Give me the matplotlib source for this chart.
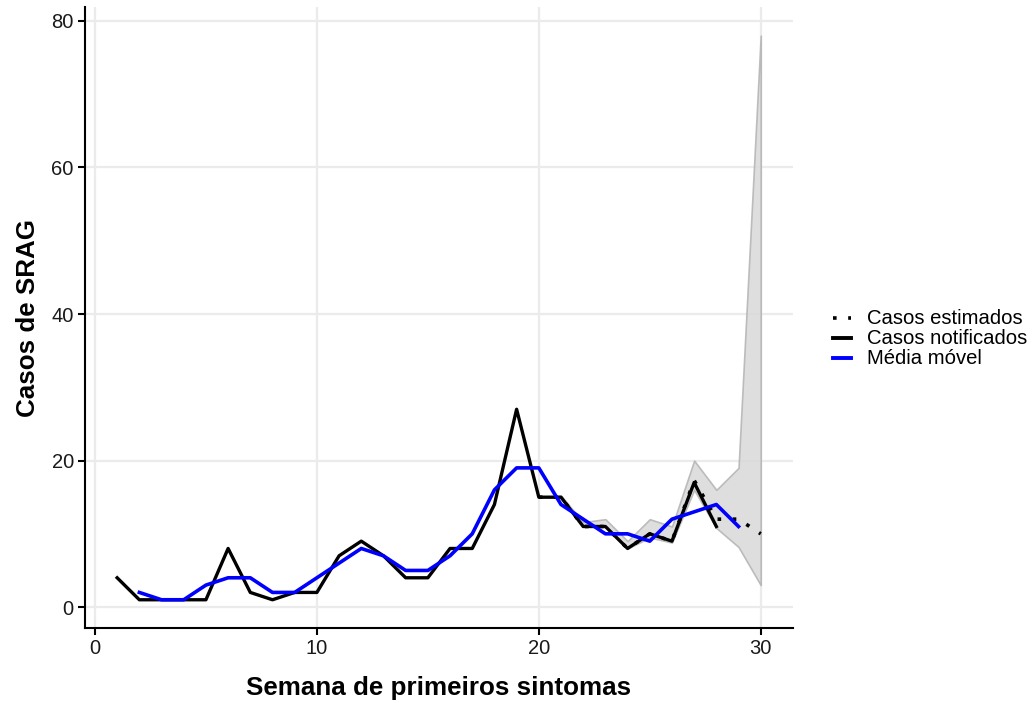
import matplotlib
matplotlib.use("Agg")
import matplotlib.pyplot as plt
from matplotlib.lines import Line2D

plt.rcParams['font.family'] = ['Liberation Sans', 'DejaVu Sans']

weeks_notified = list(range(1, 29))
notified = [4, 1, 1, 1, 1, 8, 2, 1, 2, 2, 7, 9, 7, 4, 4, 8, 8, 14, 27, 15,
            15, 11, 11, 8, 10, 9, 17, 11]

weeks_estimated = list(range(20, 31))
estimated = [15, 15, 11, 11, 8, 10, 9, 17.3, 12, 12, 10]
lower = [15, 15, 11, 11, 8, 9.5, 8.8, 16, 10.8, 8.2, 3]
upper = [15, 15.2, 11.6, 12, 9, 12, 11, 20, 16, 19, 78]

weeks_ma = list(range(2, 30))
moving_avg = [2, 1, 1, 3, 4, 4, 2, 2, 4, 6, 8, 7, 5, 5, 7, 10, 16, 19, 19,
              14, 12, 10, 10, 9, 12, 13, 14, 11]

xticks = [0, 10, 20, 30]
yticks = [0, 20, 40, 60, 80]
legend_labels = ['Casos estimados', 'Casos notificados', 'Média móvel']

W, H = 1035, 704
fig = plt.figure(figsize=(W / 100, H / 100), dpi=100)
ax = fig.add_axes([0.0821, 0.108, 0.684, 0.8815])

ax.fill_between(weeks_estimated, lower, upper, facecolor='#d9d9d9',
                edgecolor='#b3b3b3', linewidth=1.2, alpha=0.85, zorder=2)
ax.plot(weeks_notified, notified, color='black', lw=2.4, zorder=3)
ax.plot(weeks_estimated, estimated, color='black', lw=2.6,
        linestyle=(0, (1, 3.2)), dash_capstyle='butt', zorder=4)
ax.plot(weeks_ma, moving_avg, color='#0000ff', lw=2.6, zorder=5)

ax.set_xlim(-0.45, 31.45)
ax.set_ylim(-2.85, 81.85)
ax.set_xticks(xticks)
ax.set_yticks(yticks)
ax.grid(True, color='#ebebeb', lw=1.6, zorder=0)
ax.set_axisbelow(True)
for s in ['top', 'right']:
    ax.spines[s].set_visible(False)
for s in ['left', 'bottom']:
    ax.spines[s].set_linewidth(1.5)
    ax.spines[s].set_color('black')
ax.tick_params(axis='both', length=5, width=1.5, color='black',
               labelsize=14.5, labelcolor='#1a1a1a', pad=3)

ax.set_xlabel('Semana de primeiros sintomas', fontsize=18.7, fontweight='bold',
              labelpad=13)
ax.set_ylabel('Casos de SRAG', fontsize=18.7, fontweight='bold', labelpad=8)

# legend drawn manually (tight ggplot-style rows)
styles = [
    dict(color='black', lw=2.6, linestyle=(0, (1, 3.2)), dash_capstyle='butt'),
    dict(color='black', lw=2.8),
    dict(color='#0000ff', lw=2.8),
]
row_centers = [318, 338, 358]
for lab, st, yc in zip(legend_labels, styles, row_centers):
    yf = 1 - yc / H
    fig.add_artist(Line2D([833 / W, 851 / W], [yf, yf],
                          transform=fig.transFigure, **st))
    fig.text(867 / W, yf, lab, fontsize=14.6, va='center', ha='left',
             color='black')

fig.savefig('out.png', dpi=100)
